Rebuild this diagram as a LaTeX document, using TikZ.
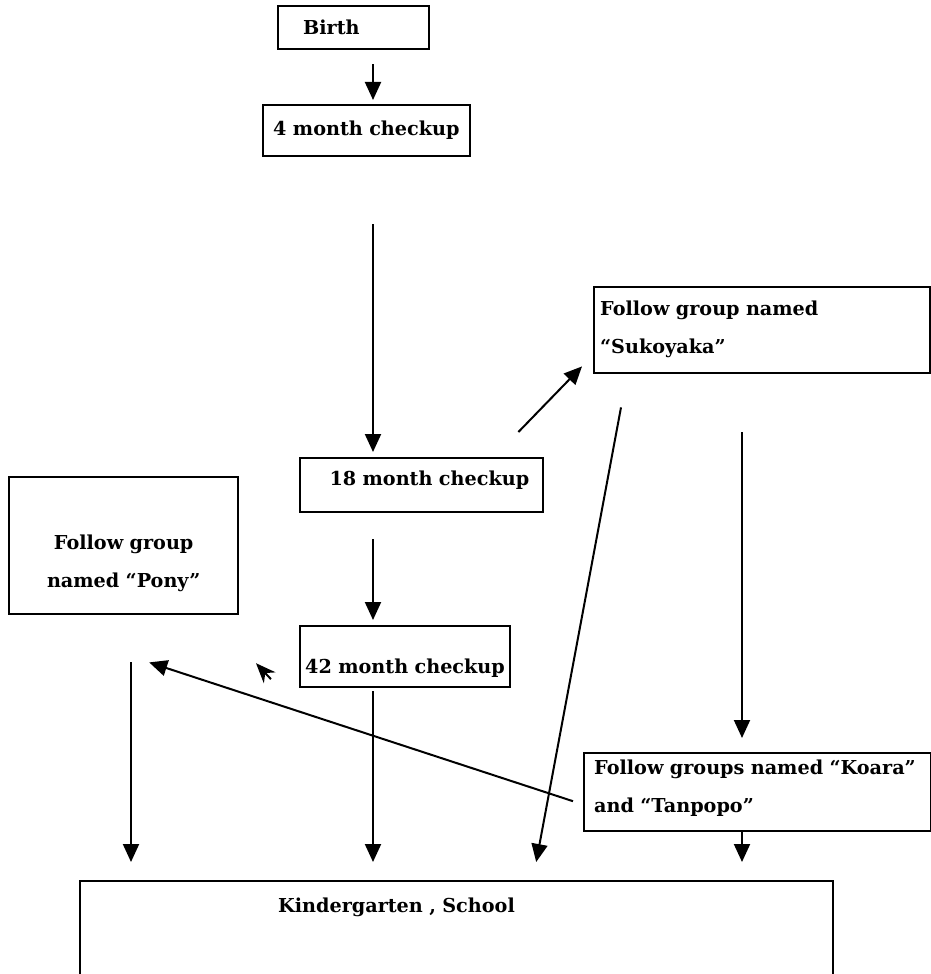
\documentclass[tikz,border=0pt]{standalone}
\usepackage{fontspec}
\setmainfont{DejaVu Serif}
\usepackage{tikz}
\usetikzlibrary{arrows.meta}
\tikzset{%
  myedge/.style={-{Triangle[length=9pt,width=8pt]}, line width=1pt},
  mystub/.style={-{Stealth[length=10pt,width=8pt]}, line width=1pt},
  mybox/.style={draw=black, line width=1.2pt, anchor=north west, inner ysep=3pt,
    font=\fontsize{9.6}{19}\selectfont\bfseries}
}

\begin{document}
\begin{tikzpicture}[x=0.5pt, y=-0.5pt]
  \useasboundingbox (0,0) rectangle (931,974);
  \clip (0,0) rectangle (931,974);
  \coordinate (col) at (373,0);
  \coordinate (rcol) at (742,0);
  \coordinate (lcol) at (131,0);
  % boxes
  \node[mybox, align=left, inner xsep=12.5pt, text width=50.5pt, text height=11pt, text depth=4.5pt] (birth) at (277,5) {Birth};
  \node[mybox, align=left, inner xsep=5pt, text width=93.5pt, text height=12pt, text depth=7.5pt] (four) at (262,104) {4 month checkup};
  \node[mybox, align=left, inner xsep=3pt, text width=162pt, text height=11pt, text depth=26pt] (suko) at (593,286) {Follow group named\\ ``Sukoyaka''};
  \node[mybox, align=right, inner xsep=7pt, text width=107.5pt, text height=10.5pt, text depth=10.5pt] (eighteen) at (299,457) {18 month checkup};
  \node[mybox, align=center, inner xsep=5pt, text width=104.5pt, text height=33pt, text depth=29.5pt] (pony) at (8,476) {Follow group\\ named ``Pony''};
  \node[mybox, align=left, inner xsep=2.5pt, text width=100pt, text height=20.5pt, text depth=4pt] (fortytwo) at (299,625) {42 month checkup};
  \node[mybox, align=left, inner xsep=5pt, text width=163.5pt, text height=7.5pt, text depth=25.5pt] (koara) at (583,752) {Follow groups named ``Koara''\\ and ``Tanpopo''};
  \node[mybox, align=left, inner xsep=99pt, text width=178.5pt, text height=12.5pt, text depth=41.5pt] (kinder) at (79,880) {Kindergarten , School};
  % main line
  \draw[myedge] ([yshift=-7pt]birth.south -| col) -- ([yshift=2pt]four.north -| col);
  \draw[myedge] ([yshift=-33.5pt]four.south -| col) -- ([yshift=2.5pt]eighteen.north -| col);
  \draw[myedge] ([yshift=-13pt]eighteen.south -| col) -- ([yshift=2.5pt]fortytwo.north -| col);
  \draw[myedge] ([yshift=-1.5pt]fortytwo.south -| col) -- ([yshift=9pt]kinder.north -| col);
  % follow groups
  \draw[myedge] ([xshift=-13pt,yshift=12.5pt]eighteen.north east) -- ([xshift=-5.5pt,yshift=4pt]suko.south west);
  \draw[myedge] ([xshift=14pt,yshift=-16.5pt]suko.south west) -- ([xshift=39.75pt,yshift=9pt]kinder.north);
  \draw[myedge] ([yshift=-29pt]suko.south -| rcol) -- ([yshift=7pt]koara.north -| rcol);
  \draw[myedge] (koara.south -| rcol) -- ([yshift=9pt]kinder.north -| rcol);
  \draw[myedge] ([xshift=-5pt,yshift=-4.5pt]koara.west) -- ([xshift=12.75pt,yshift=-23.5pt]pony.south);
  \draw[myedge] ([yshift=-23.5pt]pony.south -| lcol) -- ([yshift=9pt]kinder.north -| lcol);
  \draw[mystub] ([xshift=-14pt,yshift=-11.25pt]fortytwo.west) -- ([xshift=-21.5pt,yshift=-3.25pt]fortytwo.west);
\end{tikzpicture}
\end{document}
